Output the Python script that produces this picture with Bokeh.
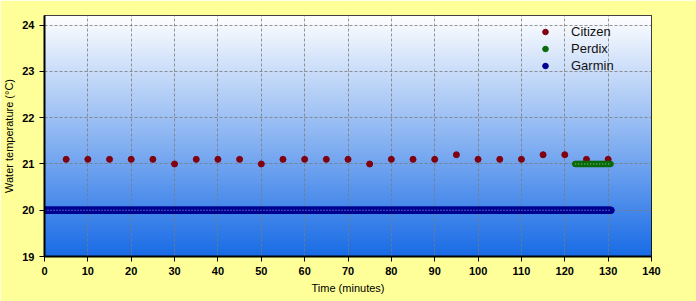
import numpy as np
from bokeh.plotting import figure
from bokeh.models import Range1d, Legend, LegendItem, FixedTicker
from bokeh.embed import file_html
from bokeh.resources import INLINE

# ---- data ----
citizen_time = [5, 10, 15, 20, 25, 30, 35, 40, 45, 50, 55, 60, 65, 70, 75,
                80, 85, 90, 95, 100, 105, 110, 115, 120, 125, 130]
citizen_temp = [21.1, 21.1, 21.1, 21.1, 21.1, 21.0, 21.1, 21.1, 21.1, 21.0,
                21.1, 21.1, 21.1, 21.1, 21.0, 21.1, 21.1, 21.1, 21.2, 21.1,
                21.1, 21.1, 21.2, 21.2, 21.1, 21.1]

# Dense loggers: constant readings, sampled every 10 s (1/6 min)
garmin_start, garmin_end, garmin_temp = 0.0, 130.7, 20.0
perdix_start, perdix_end, perdix_temp = 122.4, 130.6, 21.0
sample_step = 1.0 / 6.0
garmin_time = list(np.arange(garmin_start, garmin_end + 1e-9, sample_step))
garmin_vals = [garmin_temp] * len(garmin_time)
perdix_time = list(np.arange(perdix_start, perdix_end + 1e-9, sample_step))
perdix_vals = [perdix_temp] * len(perdix_time)

x_ticks = [0, 10, 20, 30, 40, 50, 60, 70, 80, 90, 100, 110, 120, 130, 140]
y_ticks = [19, 20, 21, 22, 23, 24]

FONT = "Liberation Sans"
BG = "#ffff99"

p = figure(width=696, height=301, output_backend="svg", toolbar_location=None,
           x_range=Range1d(0, 140), y_range=Range1d(19, 24.21),
           min_border_left=44, min_border_right=45, min_border_top=15,
           min_border_bottom=45)
p.background_fill_color = BG
p.border_fill_color = BG
p.outline_line_color = "black"
p.outline_line_width = 1

# gradient chart background (white -> blue)
n = 256
t = np.linspace(0, 1, n)  # 0 bottom, 1 top
top = np.array([255, 255, 255])
bot = np.array([25, 108, 230])
img = np.zeros((n, 1), dtype=np.uint32)
view = img.view(dtype=np.uint8).reshape((n, 1, 4))
for i in range(n):
    c = bot + (top - bot) * t[i]
    view[i, 0, 0] = int(c[0]); view[i, 0, 1] = int(c[1]); view[i, 0, 2] = int(c[2]); view[i, 0, 3] = 255
p.image_rgba(image=[img], x=0, y=19, dw=140, dh=5.21, level="image")

# grid
for g in (p.xgrid, p.ygrid):
    g.grid_line_color = "#7a7a7a"
    g.grid_line_dash = "3 2"
    g.grid_line_alpha = 0.8
p.xgrid.ticker = FixedTicker(ticks=x_ticks)
p.ygrid.ticker = FixedTicker(ticks=y_ticks)

# series
r_cit = p.scatter(citizen_time, citizen_temp, size=6, color="#800010", line_color="#800010")
r_per = p.scatter(perdix_time, perdix_vals, size=5.5, color="#0a6a0a", line_color="#0a6a0a")
p.line(perdix_time, perdix_vals, line_color="#9fe09f", line_dash="1 2", line_width=1)
r_gar = p.scatter(garmin_time, garmin_vals, size=6.5, color="#000090", line_color="#000090")
p.line(garmin_time, garmin_vals, line_color="#a8b8ff", line_dash="1 2", line_width=1)

# axes
for ax in (p.xaxis, p.yaxis):
    ax.axis_line_color = "black"
    ax.axis_line_width = 2
    ax.major_tick_line_color = "black"
    ax.major_tick_line_width = 1
    ax.major_tick_out = 5
    ax.major_tick_in = 0
    ax.minor_tick_line_color = None
    ax.major_label_text_font = FONT
    ax.major_label_text_font_style = "bold"
    ax.major_label_text_font_size = "11px"
    ax.major_label_text_color = "black"
    ax.axis_label_text_font = FONT
    ax.axis_label_text_font_style = "normal"
    ax.axis_label_text_font_size = "11px"
    ax.axis_label_text_color = "black"
p.xaxis.ticker = FixedTicker(ticks=x_ticks)
p.yaxis.ticker = FixedTicker(ticks=y_ticks)
p.xaxis.axis_label = "Time (minutes)"
p.yaxis.axis_label = "Water temperature (°C)"
p.xaxis.axis_label_standoff = 4
p.yaxis.axis_label_standoff = 4

legend = Legend(items=[LegendItem(label="Citizen", renderers=[r_cit]),
                       LegendItem(label="Perdix", renderers=[r_per]),
                       LegendItem(label="Garmin", renderers=[r_gar])],
                location=(494, 182))
legend.background_fill_alpha = 0
legend.border_line_color = None
legend.padding = 0
legend.margin = 0
legend.spacing = 0
legend.glyph_width = 14
legend.glyph_height = 17
legend.label_height = 17
legend.label_standoff = 19
legend.label_text_font = FONT
legend.label_text_font_size = "13px"
legend.label_text_color = "#111111"
p.add_layout(legend, "center")

open("out.html", "w").write(file_html(p, INLINE))
